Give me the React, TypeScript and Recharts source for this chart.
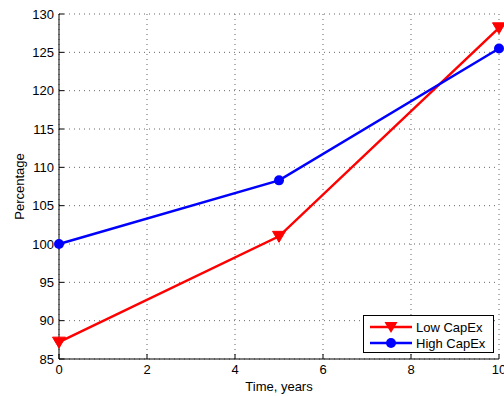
import { LineChart, Line, XAxis, YAxis, CartesianGrid } from 'recharts';

const years = [0, 5, 10];
const lowCapEx = [87.2, 101, 128.2];
const highCapEx = [100, 108.3, 125.5];
const xTicks = [0, 2, 4, 6, 8, 10];
const yTicks = [85, 90, 95, 100, 105, 110, 115, 120, 125, 130];
const seriesNames = ['Low CapEx', 'High CapEx'];

const data = years.map((t, i) => ({ t, low: lowCapEx[i], high: highCapEx[i] }));

const FONT = '"Liberation Sans", Arial, Helvetica, sans-serif';
const RED = '#ff0000';
const BLUE = '#0000ff';

function TriangleDot(props: any) {
  const { cx, cy } = props;
  if (cx == null || cy == null) return null;
  return (
    <path
      d={`M${cx - 6.5},${cy - 5}L${cx + 6.5},${cy - 5}L${cx},${cy + 6}Z`}
      fill={RED}
      stroke={RED}
    />
  );
}

function YLabel(props: any) {
  const vb = props.viewBox || { x: 0, y: 14, width: 59, height: 345 };
  const x = vb.x + 19;
  const y = vb.y + vb.height / 2;
  return (
    <text
      x={x}
      y={y}
      transform={`rotate(-90 ${x} ${y})`}
      textAnchor="middle"
      dominantBaseline="central"
      fill="#000"
      fontSize={13}
      fontFamily={FONT}
    >
      Percentage
    </text>
  );
}

function LegendBox() {
  return (
    <div
      style={{
        position: 'absolute',
        left: 363,
        top: 315,
        width: 131,
        height: 38,
        border: '1px solid #000',
        background: '#fff',
        boxSizing: 'border-box',
      }}
    >
      <svg width={129} height={36} style={{ display: 'block' }}>
        <line x1={6} x2={48} y1={11} y2={11} stroke={RED} strokeWidth={2.5} />
        <path d="M20.5,6L33.5,6L27,17Z" fill={RED} />
        <text x={52} y={11} dominantBaseline="central" fontSize={13} fontFamily={FONT} fill="#000">
          {seriesNames[0]}
        </text>
        <line x1={6} x2={48} y1={27} y2={27} stroke={BLUE} strokeWidth={2.5} />
        <circle cx={27} cy={27} r={5} fill={BLUE} />
        <text x={52} y={27} dominantBaseline="central" fontSize={13} fontFamily={FONT} fill="#000">
          {seriesNames[1]}
        </text>
      </svg>
    </div>
  );
}

export default function App() {
  const tickStyle = { fill: '#000', fontSize: 13, fontFamily: FONT };
  return (
    <div style={{ position: 'absolute', left: 0, top: 0, width: 504, height: 396, background: '#fff' }}>
      <LineChart width={504} height={396} data={data} margin={{ top: 14, right: 5, left: 0, bottom: 0 }}>
        <CartesianGrid stroke="#666" strokeDasharray="1 4" ticks={undefined} />
        <XAxis
          dataKey="t"
          type="number"
          domain={[0, 10]}
          ticks={xTicks}
          interval={0}
          height={37}
          stroke="#000"
          tick={tickStyle}
          tickSize={-5}
          tickMargin={11}
          label={{ value: 'Time, years', position: 'insideBottom', offset: 5, fill: '#000', fontSize: 13, fontFamily: FONT }}
        />
        <XAxis
          xAxisId="top"
          orientation="top"
          type="number"
          domain={[0, 10]}
          ticks={xTicks}
          interval={0}
          height={0}
          stroke="#000"
          tick={false}
          tickSize={-5}
        />
        <YAxis
          type="number"
          domain={[85, 130]}
          ticks={yTicks}
          interval={0}
          width={59}
          stroke="#000"
          tick={tickStyle}
          tickSize={-5}
          tickMargin={10}
          label={{ content: <YLabel /> }}
        />
        <YAxis
          yAxisId="right"
          orientation="right"
          type="number"
          domain={[85, 130]}
          ticks={yTicks}
          interval={0}
          width={0}
          stroke="#000"
          tick={false}
          tickSize={-5}
        />
        <Line
          dataKey="low"
          stroke={RED}
          strokeWidth={2.5}
          dot={<TriangleDot />}
          activeDot={false}
          isAnimationActive={false}
        />
        <Line
          dataKey="high"
          stroke={BLUE}
          strokeWidth={2.5}
          dot={{ r: 5, fill: BLUE, stroke: BLUE, strokeWidth: 0 }}
          activeDot={false}
          isAnimationActive={false}
        />
      </LineChart>
      <LegendBox />
    </div>
  );
}
